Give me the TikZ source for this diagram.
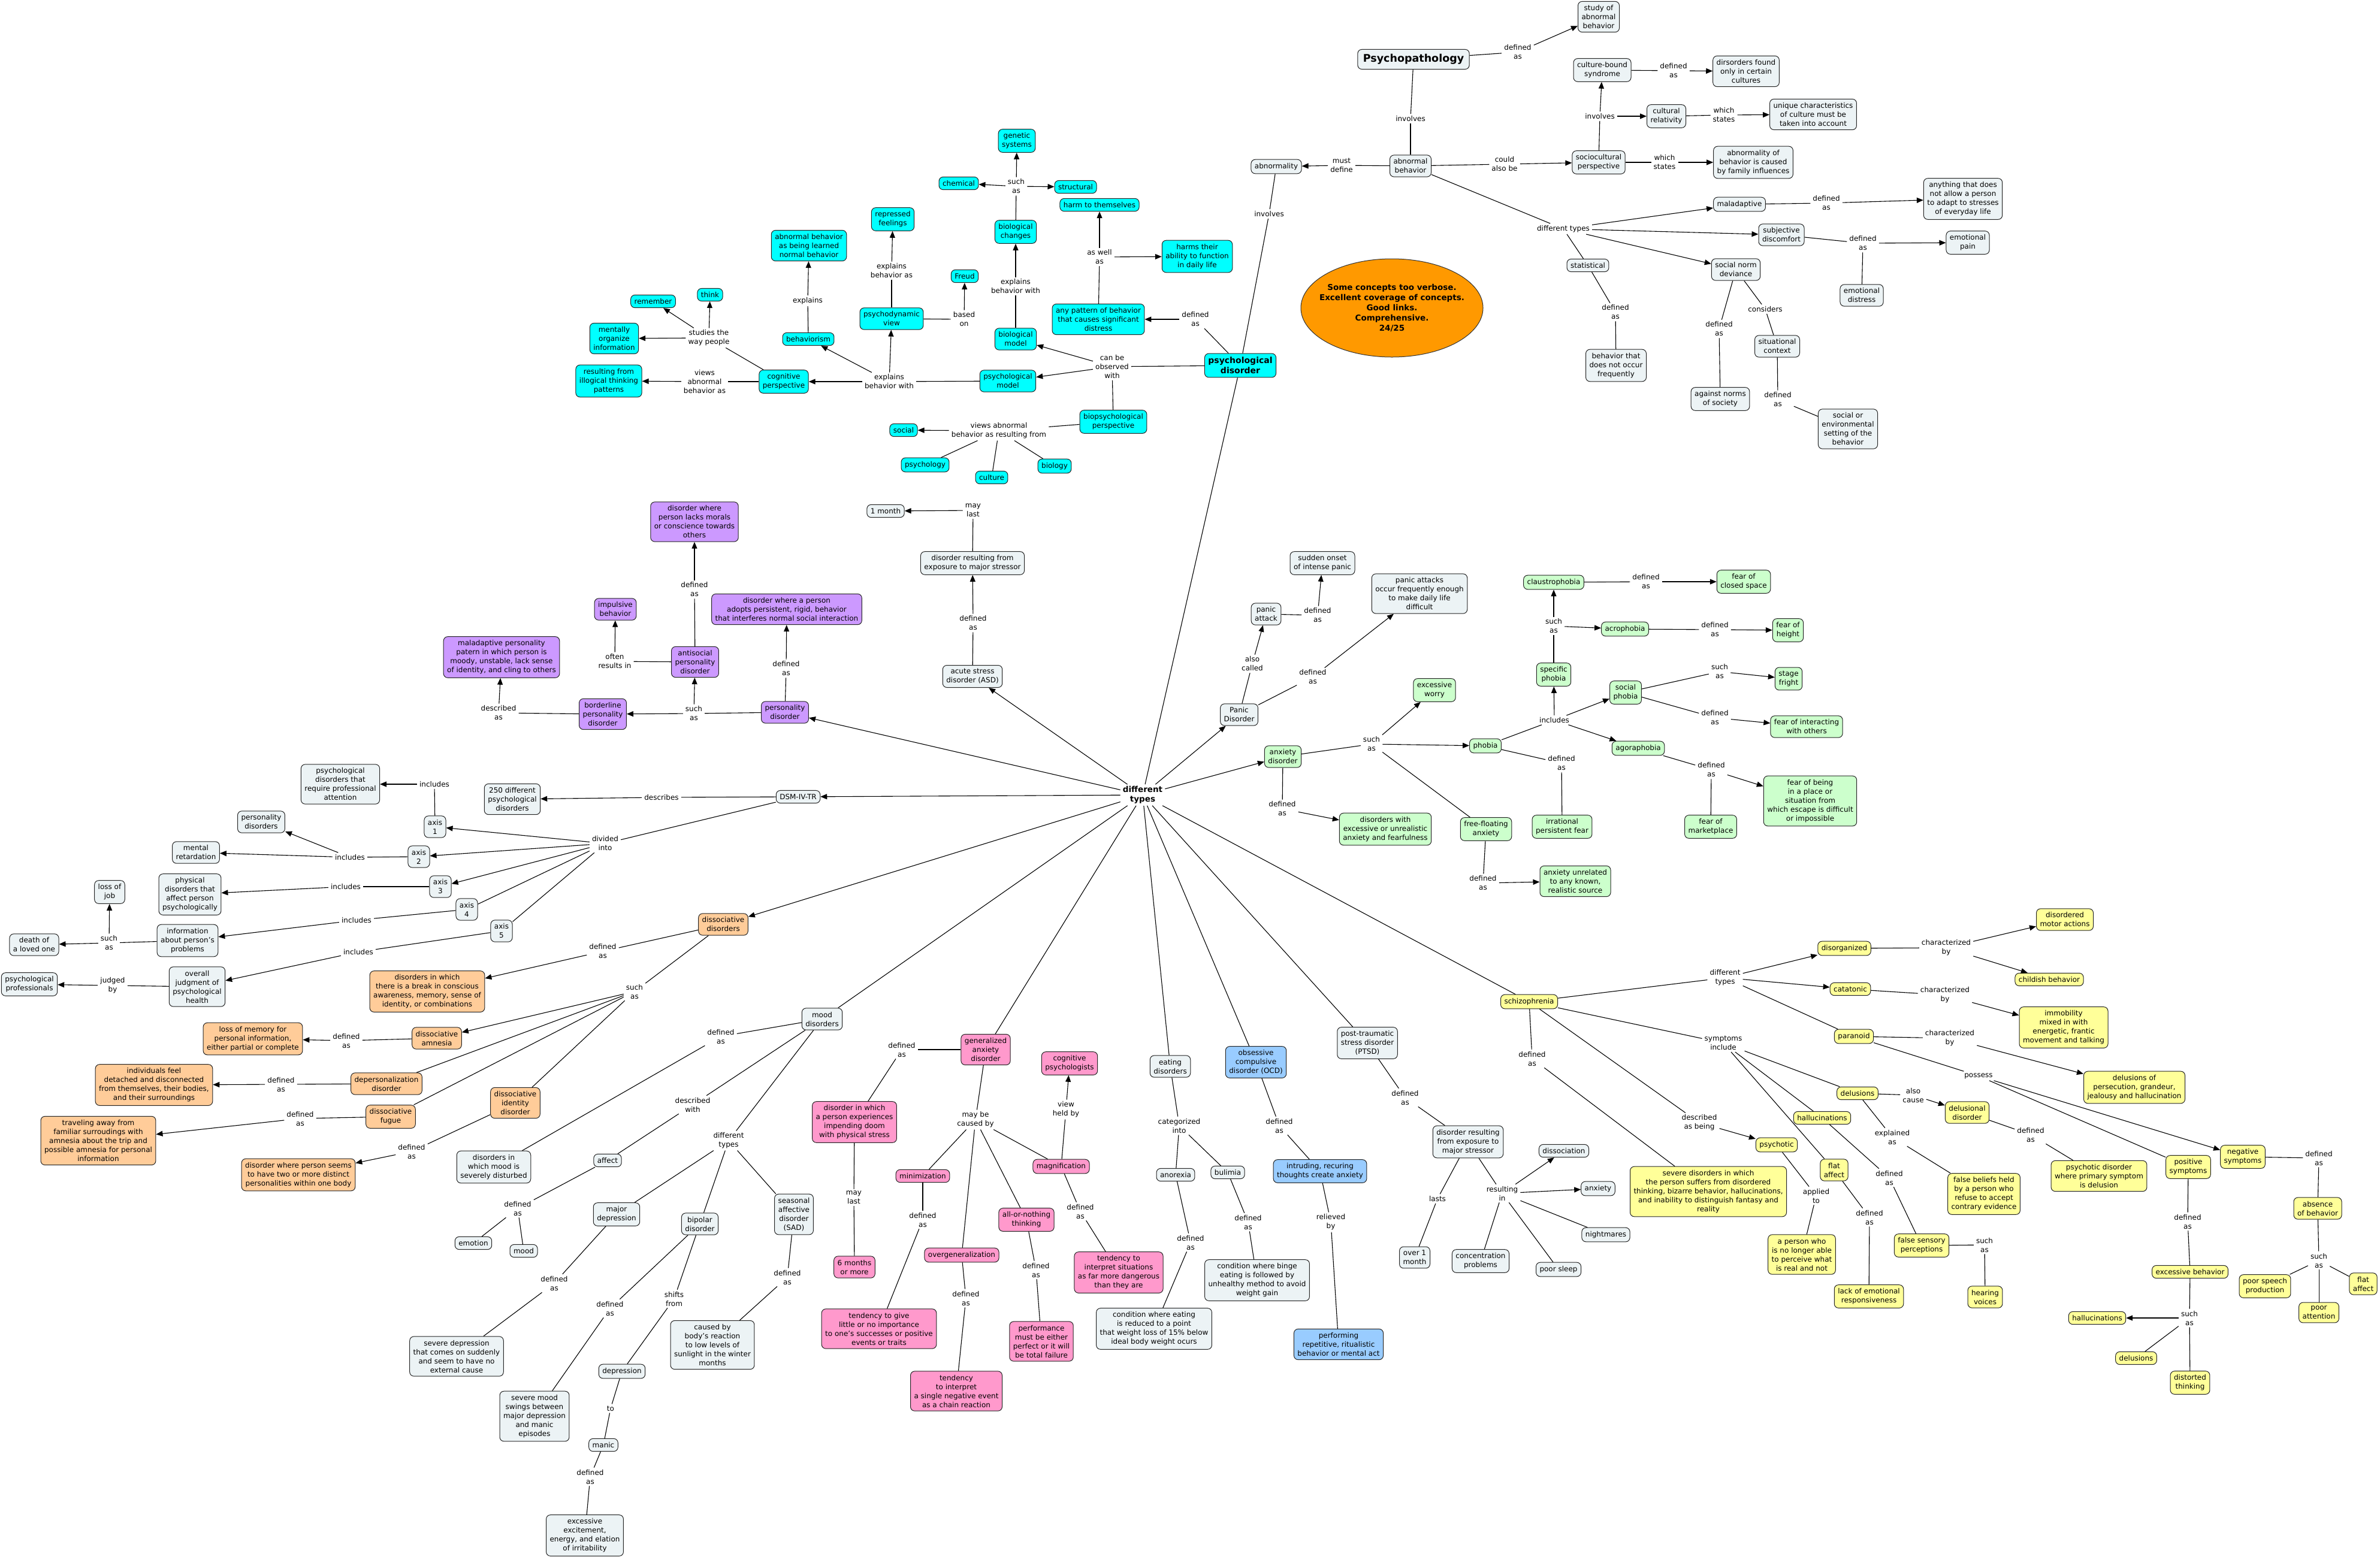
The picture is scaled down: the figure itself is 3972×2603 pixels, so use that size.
\documentclass[tikz,border=0pt]{standalone}
\usepackage{fontspec}
\setmainfont{DejaVu Sans}
\usetikzlibrary{arrows.meta,shapes.geometric}
\definecolor{cfill}{RGB}{236,243,245}
\definecolor{cyanc}{RGB}{0,255,255}
\definecolor{purplec}{RGB}{204,153,255}
\definecolor{orangec}{RGB}{255,204,153}
\definecolor{greenc}{RGB}{204,255,204}
\definecolor{pinkc}{RGB}{255,153,204}
\definecolor{bluec}{RGB}{153,204,255}
\definecolor{yellowc}{RGB}{255,255,153}
\definecolor{ellc}{RGB}{255,153,0}
\tikzset{
 cpt/.style={draw=black!85, line width=1pt, rounded corners=7pt, fill=cfill, align=center, inner xsep=6pt, inner ysep=6pt, font=\fontsize{12}{15}\selectfont},
 cyc/.style={fill=cyanc}, puc/.style={fill=purplec}, orc/.style={fill=orangec},
 grc/.style={fill=greenc}, pkc/.style={fill=pinkc}, blc/.style={fill=bluec}, yec/.style={fill=yellowc},
 lnk/.style={align=center, inner xsep=4pt, inner ysep=3pt, font=\fontsize{12}{15}\selectfont},
 lnw/.style={draw=black, line width=1.1pt},
 arw/.style={lnw, -{Triangle[length=11pt,width=9pt]}},
}
\newcommand\cpt[4][]{\node[cpt,#1] (#2) at (#3) {#4};}
\newcommand\lnk[3]{\node[lnk] (#1) at (#2) {#3};}
\newcommand\cnl[2]{\draw[lnw] (#1) -- (#2);}
\newcommand\cna[2]{\draw[arw] (#1) -- (#2);}
\begin{document}
\begin{tikzpicture}[x=1pt,y=-1pt]
\fill[white] (0,0) rectangle (3972,2603);
\useasboundingbox (0,0) rectangle (3972,2603);

% ---------- top ----------
\cpt[font=\bfseries\fontsize{17.5}{21}\selectfont, inner xsep=9pt, inner ysep=8pt]{psychopath}{2359,99}{Psychopathology}
\cpt{studyab}{2668,28}{study of\\abnormal\\behavior}
\lnk{lpsydef}{2533,87}{defined\\as}
\cpt{abbeh}{2354,277}{abnormal\\behavior}
\lnk{linvone}{2354,198}{involves}
\cpt{abnormality}{2130,278}{abnormality}
\lnk{lmust}{2239,276}{must\\define}
\lnk{lcould}{2511,274}{could\\also be}
\cpt{socio}{2668,271}{sociocultural\\perspective}
\lnk{lsocst}{2778,271}{which\\states}
\cpt{famil}{2926,271}{abnormality of\\behavior is caused\\by family influences}
\lnk{lsocinv}{2670,194}{involves}
\cpt{culbound}{2674,117}{culture-bound\\syndrome}
\lnk{lculdef}{2793,118}{defined\\as}
\cpt{disfound}{2914,119}{dirsorders found\\only in certain\\cultures}
\cpt{culrel}{2781,194}{cultural\\relativity}
\lnk{lrelst}{2877,192}{which\\states}
\cpt{unique}{3026,191}{unique characteristics\\of culture must be\\taken into account}
\lnk{ldtone}{2609,382}{different types}
\cpt{maladapt}{2903,341}{maladaptive}
\lnk{lmaldef}{3048,339}{defined\\as}
\cpt{anything}{3276,332}{anything that does\\not allow a person\\to adapt to stresses\\of everyday life}
\cpt{subjective}{2973,392}{subjective\\discomfort}
\lnk{lsubdef}{3109,406}{defined\\as}
\cpt{emopain}{3284,405}{emotional\\pain}
\cpt{emodist}{3107,493}{emotional\\distress}
\cpt{statist}{2650,443}{statistical}
\lnk{lstatdef}{2696,521}{defined\\as}
\cpt{notfreq}{2697,610}{behavior that\\does not occur\\frequently}
\cpt{socnorm}{2897,450}{social norm\\deviance}
\lnk{lconsid}{2946,516}{considers}
\lnk{lnormdef}{2869,549}{defined\\as}
\cpt{situat}{2966,578}{situational\\context}
\cpt{against}{2871,666}{against norms\\of society}
\lnk{lsitdef}{2967,667}{defined\\as}
\cpt{socenv}{3084,716}{social or\\environmental\\setting of the\\behavior}

\cnl{psychopath}{lpsydef} \cna{lpsydef}{studyab}
\cnl{psychopath}{linvone} \cnl{linvone}{abbeh}
\cnl{abbeh}{lmust} \cna{lmust}{abnormality}
\cnl{abbeh}{lcould} \cna{lcould}{socio}
\cnl{socio}{lsocst} \cna{lsocst}{famil}
\cnl{socio}{lsocinv} \cna{lsocinv}{culbound} \cna{lsocinv}{culrel}
\cnl{culbound}{lculdef} \cna{lculdef}{disfound}
\cnl{culrel}{lrelst} \cna{lrelst}{unique}
\cnl{abbeh}{ldtone} \cna{ldtone}{maladapt} \cna{ldtone}{subjective} \cna{ldtone}{socnorm} \cnl{ldtone}{statist}
\cnl{maladapt}{lmaldef} \cna{lmaldef}{anything}
\cnl{subjective}{lsubdef} \cna{lsubdef}{emopain} \cnl{emodist}{lsubdef}
\cnl{statist}{lstatdef} \cnl{lstatdef}{notfreq}
\cnl{socnorm}{lnormdef} \cnl{lnormdef}{against}
\cnl{socnorm}{lconsid} \cnl{lconsid}{situat}
\cnl{situat}{lsitdef} \cnl{lsitdef}{socenv}

% note ellipse
\node[ellipse, draw=black!80, line width=1pt, fill=ellc, minimum width=304pt, minimum height=164pt, inner sep=0pt] (note) at (2323,514) {};
\node[align=center, font=\bfseries\fontsize{13.5}{17}\selectfont] (notetext) at (note.center) {Some concepts too verbose.\\Excellent coverage of concepts.\\Good links.\\Comprehensive.\\24/25};

% ---------- cyan ----------
\cpt[cyc, font=\bfseries\fontsize{14}{17}\selectfont]{psychdis}{2070,610}{psychological\\disorder}
\lnk{linvtwo}{2118,357}{involves}
\cnl{abnormality}{linvtwo} \cnl{linvtwo}{psychdis}
\lnk{lpddef}{1995,533}{defined\\as}
\cpt[cyc]{anypat}{1833,533}{any pattern of behavior\\that causes significant\\distress}
\lnk{laswell}{1835,429}{as well\\as}
\cpt[cyc]{harmself}{1835,342}{harm to themselves}
\cpt[cyc]{harmab}{1998,428}{harms their\\ability to function\\in daily life}
\lnk{lobs}{1856,612}{can be\\observed\\with}
\cpt[cyc]{biomodel}{1695,566}{biological\\model}
\lnk{lbiowith}{1695,478}{explains\\behavior with}
\cpt[cyc]{biochg}{1695,387}{biological\\changes}
\lnk{lbiosuch}{1696,311}{such\\as}
\cpt[cyc]{genetic}{1697,235}{genetic\\systems}
\cpt[cyc]{chemical}{1600,306}{chemical}
\cpt[cyc]{structural}{1795,312}{structural}
\cpt[cyc]{psymodel}{1682,636}{psychological\\model}
\lnk{lpsywith}{1484,637}{explains\\behavior with}
\cpt[cyc]{cogp}{1308,637}{cognitive\\perspective}
\cpt[cyc]{behav}{1349,566}{behaviorism}
\lnk{lexpl}{1348,502}{explains}
\cpt[cyc]{learned}{1350,410}{abnormal behavior\\as being learned\\normal behavior}
\cpt[cyc]{psydyn}{1488,532}{psychodynamic\\view}
\lnk{lexplas}{1488,452}{explains\\behavior as}
\cpt[cyc]{repressed}{1490,366}{repressed\\feelings}
\lnk{lbased}{1609,533}{based\\on}
\cpt[cyc]{freud}{1610,461}{Freud}
\lnk{lstudies}{1183,564}{studies the\\way people}
\cpt[cyc]{remember}{1090,503}{remember}
\cpt[cyc]{think}{1185,492}{think}
\cpt[cyc]{mentally}{1025,565}{mentally\\organize\\information}
\lnk{lviews}{1176,637}{views\\abnormal\\behavior as}
\cpt[cyc]{illogical}{1016,636}{resulting from\\illogical thinking\\patterns}
\cpt[cyc]{biopsych}{1858,704}{biopsychological\\perspective}
\lnk{lviewsres}{1667,719}{views abnormal\\behavior as resulting from}
\cpt[cyc]{social}{1508,718}{social}
\cpt[cyc]{psychology}{1544,776}{psychology}
\cpt[cyc]{culture}{1655,797}{culture}
\cpt[cyc]{biology}{1760,778}{biology}

\cnl{psychdis}{lpddef} \cna{lpddef}{anypat}
\cnl{anypat}{laswell} \cna{laswell}{harmself} \cna{laswell}{harmab}
\cnl{psychdis}{lobs} \cna{lobs}{biomodel} \cna{lobs}{psymodel} \cnl{lobs}{biopsych}
\cnl{biomodel}{lbiowith} \cna{lbiowith}{biochg}
\cnl{biochg}{lbiosuch} \cna{lbiosuch}{genetic} \cna{lbiosuch}{chemical} \cna{lbiosuch}{structural}
\cnl{psymodel}{lpsywith} \cna{lpsywith}{cogp} \cna{lpsywith}{behav} \cna{lpsywith}{psydyn}
\cnl{behav}{lexpl} \cna{lexpl}{learned}
\cnl{psydyn}{lexplas} \cna{lexplas}{repressed}
\cnl{psydyn}{lbased} \cna{lbased}{freud}
\cnl{cogp}{lstudies} \cna{lstudies}{remember} \cna{lstudies}{think} \cna{lstudies}{mentally}
\cnl{cogp}{lviews} \cna{lviews}{illogical}
\cnl{biopsych}{lviewsres} \cna{lviewsres}{social} \cnl{lviewsres}{psychology} \cnl{lviewsres}{culture} \cnl{lviewsres}{biology}

% ---------- central ----------
\node[lnk, font=\bfseries\fontsize{13.5}{16}\selectfont] (ldt) at (1907,1327) {different\\types};
\cnl{psychdis}{ldt}

% ASD
\cpt{asd}{1623,1129}{acute stress\\disorder (ASD)}
\lnk{lasddef}{1624,1040}{defined\\as}
\cpt{asdres}{1623,940}{disorder resulting from\\exposure to major stressor}
\lnk{lmaylast}{1624,852}{may\\last}
\cpt{onemonth}{1478,853}{1 month}
\cna{ldt}{asd} \cnl{asd}{lasddef} \cna{lasddef}{asdres} \cnl{asdres}{lmaylast} \cna{lmaylast}{onemonth}

% personality
\cpt[puc]{persdis}{1310,1189}{personality\\disorder}
\lnk{lpersdef}{1312,1116}{defined\\as}
\cpt[puc]{adopts}{1313,1017}{disorder where a person\\adopts persistent, rigid, behavior\\that interferes normal social interaction}
\lnk{lperssuch}{1158,1191}{such\\as}
\cpt[puc]{antisoc}{1160,1105}{antisocial\\personality\\disorder}
\lnk{lantidef}{1159,984}{defined\\as}
\cpt[puc]{morals}{1159,871}{disorder where\\person lacks morals\\or conscience towards\\others}
\lnk{loften}{1026,1104}{often\\results in}
\cpt[puc]{impulsive}{1027,1017}{impulsive\\behavior}
\cpt[puc]{borderline}{1006,1192}{borderline\\personality\\disorder}
\lnk{ldescas}{832,1190}{described\\as}
\cpt[puc]{maladpers}{837,1097}{maladaptive personality\\patern in which person is\\moody, unstable, lack sense\\of identity, and cling to others}
\cna{ldt}{persdis} \cnl{persdis}{lpersdef} \cna{lpersdef}{adopts}
\cnl{persdis}{lperssuch} \cna{lperssuch}{antisoc} \cna{lperssuch}{borderline}
\cnl{antisoc}{lantidef} \cna{lantidef}{morals} \cnl{antisoc}{loften} \cna{loften}{impulsive}
\cnl{borderline}{ldescas} \cna{ldescas}{maladpers}

% DSM
\cpt{dsm}{1332,1330}{DSM-IV-TR}
\lnk{ldescribes}{1104,1331}{describes}
\cpt{twofifty}{855,1334}{250 different\\psychological\\disorders}
\lnk{ldivided}{1010,1408}{divided\\into}
\cpt{axisone}{726,1380}{axis\\1}
\lnk{lincone}{725,1309}{includes}
\cpt{reqprof}{568,1309}{psychological\\disorders that\\require professional\\attention}
\cpt{axistwo}{699,1430}{axis\\2}
\lnk{linctwo}{584,1431}{includes}
\cpt{persdisorders}{436,1372}{personality\\disorders}
\cpt{mentalret}{327,1423}{mental\\retardation}
\cpt{axisthree}{735,1480}{axis\\3}
\lnk{lincthree}{577,1480}{includes}
\cpt{physical}{317,1493}{physical\\disorders that\\affect person\\psychologically}
\cpt{axisfour}{779,1518}{axis\\4}
\lnk{lincfour}{595,1536}{includes}
\cpt{info}{313,1570}{information\\about person's\\problems}
\lnk{lsuchinfo}{182,1574}{such\\as}
\cpt{lossjob}{183,1489}{loss of\\job}
\cpt{death}{57,1577}{death of\\a loved one}
\cpt{axisfive}{837,1554}{axis\\5}
\lnk{lincfive}{598,1589}{includes}
\cpt{overall}{329,1647}{overall\\judgment of\\psychological\\health}
\lnk{ljudged}{188,1645}{judged\\by}
\cpt{profs}{49,1643}{psychological\\professionals}
\cna{ldt}{dsm} \cnl{dsm}{ldescribes} \cna{ldescribes}{twofifty}
\cnl{dsm}{ldivided} \cna{ldivided}{axisone} \cna{ldivided}{axistwo} \cna{ldivided}{axisthree} \cnl{ldivided}{axisfour} \cnl{ldivided}{axisfive}
\cnl{axisone}{lincone} \cna{lincone}{reqprof}
\cnl{axistwo}{linctwo} \cna{linctwo}{persdisorders} \cna{linctwo}{mentalret}
\cnl{axisthree}{lincthree} \cna{lincthree}{physical}
\cnl{axisfour}{lincfour} \cna{lincfour}{info}
\cnl{info}{lsuchinfo} \cna{lsuchinfo}{lossjob} \cna{lsuchinfo}{death}
\cnl{axisfive}{lincfive} \cna{lincfive}{overall}
\cnl{overall}{ljudged} \cna{ljudged}{profs}

% dissociative
\cpt[orc]{dissdis}{1207,1543}{dissociative\\disorders}
\lnk{ldissdef}{1006,1588}{defined\\as}
\cpt[orc]{breakdis}{713,1655}{disorders in which\\there is a break in conscious\\awareness, memory, sense of\\identity, or combinations}
\lnk{ldisssuch}{1059,1655}{such\\as}
\cpt[orc]{amnesia}{729,1733}{dissociative\\amnesia}
\lnk{lamndef}{578,1737}{defined\\as}
\cpt[orc]{lossmem}{422,1734}{loss of memory for\\personal information,\\either partial or complete}
\cpt[orc]{depers}{645,1809}{depersonalization\\disorder}
\lnk{ldepdef}{469,1810}{defined\\as}
\cpt[orc]{indiv}{257,1811}{individuals feel\\detached and disconnected\\from themselves, their bodies,\\and their surroundings}
\cpt[orc]{fugue}{652,1864}{dissociative\\fugue}
\lnk{lfugdef}{501,1867}{defined\\as}
\cpt[orc]{traveling}{164,1904}{traveling away from\\familiar surroudings with\\amnesia about the trip and\\possible amnesia for personal\\information}
\cpt[orc]{did}{860,1841}{dissociative\\identity\\disorder}
\lnk{ldiddef}{687,1922}{defined\\as}
\cpt[orc]{twoormore}{498,1961}{disorder where person seems\\to have two or more distinct\\personalities within one body}
\cna{ldt}{dissdis} \cnl{dissdis}{ldissdef} \cna{ldissdef}{breakdis}
\cnl{dissdis}{ldisssuch} \cna{ldisssuch}{amnesia} \cnl{ldisssuch}{depers} \cnl{ldisssuch}{fugue} \cnl{ldisssuch}{did}
\cnl{amnesia}{lamndef} \cna{lamndef}{lossmem}
\cnl{depers}{ldepdef} \cna{ldepdef}{indiv}
\cnl{fugue}{lfugdef} \cna{lfugdef}{traveling}
\cnl{did}{ldiddef} \cna{ldiddef}{twoormore}

% mood
\cpt{mooddis}{1372,1701}{mood\\disorders}
\lnk{lmooddef}{1203,1730}{defined\\as}
\cpt{moodsev}{824,1948}{disorders in\\which mood is\\severely disturbed}
\lnk{ldescwith}{1156,1844}{described\\with}
\cpt{affect}{1014,1937}{affect}
\lnk{laffdef}{864,2017}{defined\\as}
\cpt{emotion}{790,2075}{emotion}
\cpt{mood}{874,2088}{mood}
\lnk{lmoodtypes}{1216,1904}{different\\types}
\cpt{majdep}{1029,2027}{major\\depression}
\cpt{bipolar}{1168,2043}{bipolar\\disorder}
\cpt{sad}{1325,2027}{seasonal\\affective\\disorder\\(SAD)}
\lnk{lmajdef}{925,2142}{defined\\as}
\cpt{sevdep}{762,2264}{severe depression\\that comes on suddenly\\and seem to have no\\external cause}
\lnk{lbipdef}{1018,2184}{defined\\as}
\cpt{swings}{892,2364}{severe mood\\swings between\\major depression\\and manic\\episodes}
\lnk{lshifts}{1125,2168}{shifts\\from}
\cpt{depression}{1038,2289}{depression}
\lnk{lto}{1019,2351}{to}
\cpt{manic}{1007,2412}{manic}
\lnk{lmanicdef}{985,2465}{defined\\as}
\cpt{excite}{976,2563}{excessive\\excitement,\\energy, and elation\\of irritability}
\lnk{lsaddef}{1314,2132}{defined\\as}
\cpt{sunlight}{1189,2245}{caused by\\body's reaction\\to low levels of\\sunlight in the winter\\months}
\cnl{ldt}{mooddis} \cnl{mooddis}{lmooddef} \cnl{lmooddef}{moodsev}
\cnl{mooddis}{ldescwith} \cnl{ldescwith}{affect} \cnl{affect}{laffdef} \cnl{laffdef}{emotion} \cnl{laffdef}{mood}
\cnl{mooddis}{lmoodtypes} \cnl{lmoodtypes}{majdep} \cnl{lmoodtypes}{bipolar} \cnl{lmoodtypes}{sad}
\cnl{majdep}{lmajdef} \cnl{lmajdef}{sevdep}
\cnl{bipolar}{lbipdef} \cnl{lbipdef}{swings}
\cnl{bipolar}{lshifts} \cnl{lshifts}{depression}
\cnl{depression}{lto} \cnl{lto}{manic}
\cnl{manic}{lmanicdef} \cnl{lmanicdef}{excite}
\cnl{sad}{lsaddef} \cnl{lsaddef}{sunlight}

% GAD
\cpt[pkc]{gad}{1645,1752}{generalized\\anxiety\\disorder}
\lnk{lgaddef}{1505,1752}{defined\\as}
\cpt[pkc]{doom}{1426,1873}{disorder in which\\a person experiences\\impending doom\\with physical stress}
\lnk{lmaylasttwo}{1425,1999}{may\\last}
\cpt[pkc]{sixmonths}{1426,2115}{6 months\\or more}
\lnk{lcaused}{1628,1869}{may be\\caused by}
\cpt[pkc]{minim}{1540,1963}{minimization}
\cpt[pkc]{overgen}{1605,2095}{overgeneralization}
\cpt[pkc]{allor}{1713,2036}{all-or-nothing\\thinking}
\cpt[pkc]{magnif}{1771,1947}{magnification}
\lnk{lviewheld}{1779,1852}{view\\held by}
\cpt[pkc]{cogpsych}{1785,1775}{cognitive\\psychologists}
\lnk{lmindef}{1540,2036}{defined\\as}
\cpt[pkc]{littleimp}{1467,2218}{tendency to give\\little or no importance\\to one's successes or positive\\events or traits}
\lnk{loverdef}{1612,2167}{defined\\as}
\cpt[pkc]{chain}{1596,2322}{tendency\\to interpret\\a single negative event\\as a chain reaction}
\lnk{lalldef}{1729,2120}{defined\\as}
\cpt[pkc]{perfect}{1738,2239}{performance\\must be either\\perfect or it will\\be total failure}
\lnk{lmagdef}{1803,2022}{defined\\as}
\cpt[pkc]{dangerous}{1867,2124}{tendency to\\interpret situations\\as far more dangerous\\than they are}
\cnl{ldt}{gad} \cnl{gad}{lgaddef} \cnl{lgaddef}{doom} \cnl{doom}{lmaylasttwo} \cnl{lmaylasttwo}{sixmonths}
\cnl{gad}{lcaused} \cnl{lcaused}{minim} \cnl{lcaused}{overgen} \cnl{lcaused}{allor} \cnl{lcaused}{magnif}
\cnl{magnif}{lviewheld} \cna{lviewheld}{cogpsych}
\cnl{magnif}{lmagdef} \cnl{lmagdef}{dangerous}
\cnl{minim}{lmindef} \cnl{lmindef}{littleimp}
\cnl{overgen}{loverdef} \cnl{loverdef}{chain}
\cnl{allor}{lalldef} \cnl{lalldef}{perfect}

% eating
\cpt{eating}{1953,1780}{eating\\disorders}
\lnk{lcateg}{1968,1879}{categorized\\into}
\cpt{anorexia}{1962,1961}{anorexia}
\cpt{bulimia}{2049,1957}{bulimia}
\lnk{lanodef}{1987,2074}{defined\\as}
\cpt{anorexdef}{1926,2218}{condition where eating\\is reduced to a point\\that weight loss of 15\% below\\ideal body weight ocurs}
\lnk{lbuldef}{2083,2040}{defined\\as}
\cpt{binge}{2098,2137}{condition where binge\\eating is followed by\\unhealthy method to avoid\\weight gain}
\cnl{ldt}{eating} \cnl{eating}{lcateg} \cnl{lcateg}{anorexia} \cnl{lcateg}{bulimia}
\cnl{anorexia}{lanodef} \cnl{lanodef}{anorexdef} \cnl{bulimia}{lbuldef} \cnl{lbuldef}{binge}

% OCD
\cpt[blc]{ocd}{2096,1773}{obsessive\\compulsive\\disorder (OCD)}
\lnk{locddef}{2135,1879}{defined\\as}
\cpt[blc]{intruding}{2203,1955}{intruding, recuring\\thoughts create anxiety}
\lnk{lrelieved}{2221,2040}{relieved\\by}
\cpt[blc]{performing}{2234,2244}{performing\\repetitive, ritualistic\\behavior or mental act}
\cnl{ldt}{ocd} \cnl{ocd}{locddef} \cnl{locddef}{intruding} \cnl{intruding}{lrelieved} \cnl{lrelieved}{performing}

% PTSD
\cpt{ptsd}{2282,1741}{post-traumatic\\stress disorder\\(PTSD)}
\lnk{lptsddef}{2345,1832}{defined\\as}
\cpt{ptsdres}{2450,1906}{disorder resulting\\from exposure to\\major stressor}
\lnk{llasts}{2399,2001}{lasts}
\cpt{overone}{2361,2099}{over 1\\month}
\lnk{lresulting}{2507,1992}{resulting\\in}
\cpt{dissoc}{2610,1921}{dissociation}
\cpt{anxietyp}{2667,1984}{anxiety}
\cpt{nightmares}{2680,2061}{nightmares}
\cpt{poorsleep}{2601,2119}{poor sleep}
\cpt{concen}{2471,2105}{concentration\\problems}
\cnl{ldt}{ptsd} \cnl{ptsd}{lptsddef} \cnl{lptsddef}{ptsdres}
\cnl{ptsdres}{llasts} \cnl{llasts}{overone}
\cnl{ptsdres}{lresulting} \cna{lresulting}{dissoc} \cna{lresulting}{anxietyp} \cnl{lresulting}{nightmares} \cnl{lresulting}{poorsleep} \cnl{lresulting}{concen}

% anxiety
\cpt{panicdis}{2068,1193}{Panic\\Disorder}
\lnk{lalsocalled}{2090,1108}{also\\called}
\cpt{panicattack}{2113,1025}{panic\\attack}
\lnk{lpadef}{2199,1027}{defined\\as}
\cpt{sudden}{2207,940}{sudden onset\\of intense panic}
\lnk{lpandef}{2191,1130}{defined\\as}
\cpt{panicfreq}{2369,991}{panic attacks\\occur frequently enough\\to make daily life\\difficult}
\cpt[grc]{anxdis}{2141,1263}{anxiety\\disorder}
\lnk{lanxsuch}{2289,1242}{such\\as}
\cpt[grc]{worry}{2394,1152}{excessive\\worry}
\lnk{lanxdef}{2140,1350}{defined\\as}
\cpt[grc]{disexcess}{2312,1384}{disorders with\\excessive or unrealistic\\anxiety and fearfulness}
\cpt[grc]{freefloat}{2480,1384}{free-floating\\anxiety}
\lnk{lffdef}{2475,1474}{defined\\as}
\cpt[grc]{unrelated}{2629,1471}{anxiety unrelated\\to any known,\\realistic source}
\cpt[grc]{phobia}{2479,1245}{phobia}
\lnk{lincludes}{2594,1202}{includes}
\lnk{lphodef}{2606,1274}{defined\\as}
\cpt[grc]{irrational}{2607,1380}{irrational\\persistent fear}
\cpt[grc]{specific}{2593,1126}{specific\\phobia}
\lnk{lspecsuch}{2593,1045}{such\\as}
\cpt[grc]{claustro}{2593,972}{claustrophobia}
\lnk{lclaudef}{2747,971}{defined\\as}
\cpt[grc]{closedsp}{2910,971}{fear of\\closed space}
\cpt[grc]{acro}{2712,1050}{acrophobia}
\lnk{lacrodef}{2862,1051}{defined\\as}
\cpt[grc]{height}{2984,1052}{fear of\\height}
\cpt[grc]{socphob}{2713,1156}{social\\phobia}
\lnk{lsocsuch}{2870,1121}{such\\as}
\cpt[grc]{stage}{2985,1133}{stage\\fright}
\lnk{lsocdef}{2862,1198}{defined\\as}
\cpt[grc]{interact}{3015,1213}{fear of interacting\\with others}
\cpt[grc]{agora}{2734,1249}{agoraphobia}
\lnk{lagodef}{2856,1285}{defined\\as}
\cpt[grc]{beingplace}{3021,1337}{fear of being\\in a place or\\situation from\\which escape is difficult\\or impossible}
\cpt[grc]{market}{2855,1380}{fear of\\marketplace}
\cna{ldt}{panicdis} \cnl{panicdis}{lalsocalled} \cna{lalsocalled}{panicattack} \cnl{panicattack}{lpadef} \cna{lpadef}{sudden}
\cnl{panicdis}{lpandef} \cna{lpandef}{panicfreq}
\cna{ldt}{anxdis} \cnl{anxdis}{lanxsuch} \cna{lanxsuch}{worry} \cna{lanxsuch}{phobia} \cnl{lanxsuch}{freefloat}
\cnl{anxdis}{lanxdef} \cna{lanxdef}{disexcess}
\cnl{freefloat}{lffdef} \cna{lffdef}{unrelated}
\cnl{phobia}{lincludes} \cna{lincludes}{specific} \cna{lincludes}{socphob} \cna{lincludes}{agora}
\cnl{phobia}{lphodef} \cnl{lphodef}{irrational}
\cnl{specific}{lspecsuch} \cna{lspecsuch}{claustro} \cna{lspecsuch}{acro}
\cnl{claustro}{lclaudef} \cna{lclaudef}{closedsp}
\cnl{acro}{lacrodef} \cna{lacrodef}{height}
\cnl{socphob}{lsocsuch} \cna{lsocsuch}{stage}
\cnl{socphob}{lsocdef} \cna{lsocdef}{interact}
\cnl{agora}{lagodef} \cna{lagodef}{beingplace} \cnl{market}{lagodef}

% schizophrenia
\cpt[yec]{schizo}{2552,1672}{schizophrenia}
\lnk{lschdef}{2557,1767}{defined\\as}
\cpt[yec]{severe}{2851,1989}{severe disorders in which\\the person suffers from disordered\\thinking, bizarre behavior, hallucinations,\\and inability to distinguish fantasy and\\reality}
\lnk{ldescbeing}{2836,1874}{described\\as being}
\cpt[yec]{psychotic}{2965,1911}{psychotic}
\lnk{lapplied}{3031,1996}{applied\\to}
\cpt[yec]{noreal}{3007,2094}{a person who\\is no longer able\\to perceive what\\is real and not}
\lnk{lschtypes}{2879,1632}{different\\types}
\cpt[yec]{disorg}{3078,1583}{disorganized}
\lnk{lchardis}{3248,1582}{characterized\\by}
\cpt[yec]{motor}{3446,1535}{disordered\\motor actions}
\cpt[yec]{childish}{3420,1635}{childish behavior}
\cpt[yec]{catatonic}{3088,1651}{catatonic}
\lnk{lcharcat}{3246,1661}{characterized\\by}
\cpt[yec]{immob}{3444,1715}{immobility\\mixed in with\\energetic, frantic\\movement and talking}
\cpt[yec]{paranoid}{3094,1730}{paranoid}
\lnk{lcharpar}{3254,1733}{characterized\\by}
\cpt[yec]{persecution}{3562,1815}{delusions of\\persecution, grandeur,\\jealousy and hallucination}
\lnk{lpossess}{3302,1796}{possess}
\lnk{lsymptoms}{2876,1741}{symptoms\\include}
\cpt[yec]{delusions}{3100,1825}{delusions}
\lnk{lalsocause}{3193,1828}{also\\cause}
\cpt[yec]{delusional}{3283,1857}{delusional\\disorder}
\lnk{ldeldef}{3389,1894}{defined\\as}
\cpt[yec]{psychdelus}{3503,1963}{psychotic disorder\\where primary symptom\\is delusion}
\lnk{lexplained}{3158,1898}{explained\\as}
\cpt[yec]{falsebelief}{3311,1993}{false beliefs held\\by a person who\\refuse to accept\\contrary evidence}
\cpt[yec]{hallu}{3041,1866}{hallucinations}
\lnk{lhaldef}{3153,1966}{defined\\as}
\cpt[yec]{falsesens}{3207,2079}{false sensory\\perceptions}
\lnk{lfalsesuch}{3312,2078}{such\\as}
\cpt[yec]{hearing}{3313,2165}{hearing\\voices}
\cpt[yec]{flataff}{3061,1953}{flat\\affect}
\lnk{lflatdef}{3120,2032}{defined\\as}
\cpt[yec]{lackemo}{3119,2164}{lack of emotional\\responsiveness}
\cpt[yec]{negative}{3743,1931}{negative\\symptoms}
\lnk{lnegdef}{3870,1933}{defined\\as}
\cpt[yec]{absence}{3868,2017}{absence\\of behavior}
\lnk{labssuch}{3870,2104}{such\\as}
\cpt[yec]{poorspeech}{3780,2147}{poor speech\\production}
\cpt[yec]{poorattn}{3870,2191}{poor\\attention}
\cpt[yec]{flattwo}{3944,2143}{flat\\affect}
\cpt[yec]{positive}{3652,1948}{positive\\symptoms}
\lnk{lposdef}{3651,2039}{defined\\as}
\cpt[yec]{excessb}{3655,2123}{excessive behavior}
\lnk{lexcsuch}{3654,2200}{such\\as}
\cpt[yec]{hallutwo}{3500,2200}{hallucinations}
\cpt[yec]{delustwo}{3565,2267}{delusions}
\cpt[yec]{distorted}{3655,2308}{distorted\\thinking}
\cnl{ldt}{schizo} \cnl{schizo}{lschdef} \cnl{lschdef}{severe}
\cnl{schizo}{ldescbeing} \cna{ldescbeing}{psychotic} \cnl{psychotic}{lapplied} \cnl{lapplied}{noreal}
\cnl{schizo}{lschtypes} \cna{lschtypes}{disorg} \cna{lschtypes}{catatonic} \cnl{lschtypes}{paranoid}
\cnl{disorg}{lchardis} \cna{lchardis}{motor} \cna{lchardis}{childish}
\cnl{catatonic}{lcharcat} \cna{lcharcat}{immob}
\cnl{paranoid}{lcharpar} \cna{lcharpar}{persecution}
\cnl{paranoid}{lpossess} \cna{lpossess}{negative} \cnl{lpossess}{positive}
\cnl{schizo}{lsymptoms} \cnl{lsymptoms}{delusions} \cnl{lsymptoms}{hallu} \cnl{lsymptoms}{flataff}
\cnl{delusions}{lalsocause} \cna{lalsocause}{delusional} \cnl{delusional}{ldeldef} \cnl{ldeldef}{psychdelus}
\cnl{delusions}{lexplained} \cnl{lexplained}{falsebelief}
\cnl{hallu}{lhaldef} \cnl{lhaldef}{falsesens} \cnl{falsesens}{lfalsesuch} \cnl{lfalsesuch}{hearing}
\cnl{flataff}{lflatdef} \cnl{lflatdef}{lackemo}
\cnl{negative}{lnegdef} \cnl{lnegdef}{absence} \cnl{absence}{labssuch} \cnl{labssuch}{poorspeech} \cnl{labssuch}{poorattn} \cnl{labssuch}{flattwo}
\cnl{positive}{lposdef} \cnl{lposdef}{excessb} \cnl{excessb}{lexcsuch} \cna{lexcsuch}{hallutwo} \cnl{lexcsuch}{delustwo} \cnl{lexcsuch}{distorted}
\end{tikzpicture}
\end{document}
